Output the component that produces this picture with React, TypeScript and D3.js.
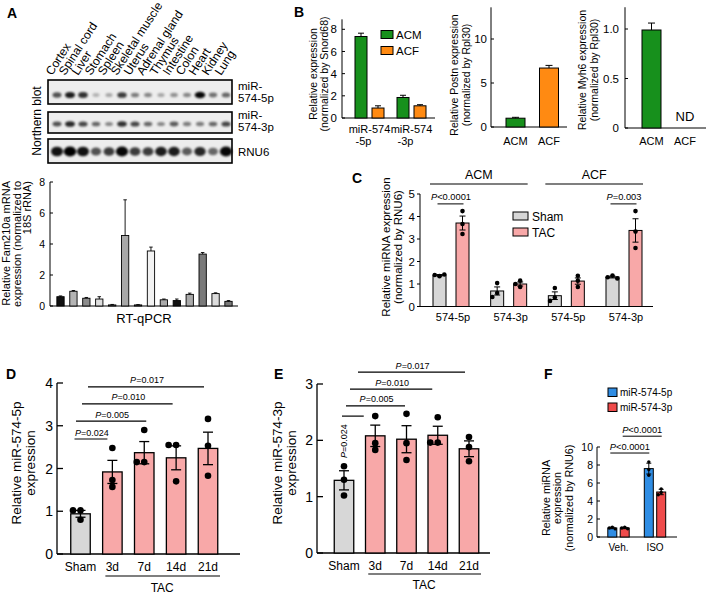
import React from 'react';
import * as d3 from 'd3';

const FONT = "'Liberation Sans', Arial, Helvetica, sans-serif";

// ===== Panel A data =====
const tissues = ['Cortex', 'Spinal cord', 'Liver', 'Stomach', 'Spleen', 'Skeletal muscle', 'Uterus', 'Adrenal gland', 'Thymus', 'Intestine', 'Colon', 'Heart', 'Kidney', 'Lung'];
const blot5p = [0.6, 0.85, 0.75, 0.15, 0.2, 0.7, 0.4, 0.35, 0.2, 0.3, 0.35, 0.95, 0.45, 0.5];
const blot3p = [0.6, 0.8, 0.65, 0.5, 0.35, 0.75, 0.65, 0.5, 0.35, 0.55, 0.4, 0.4, 0.5, 0.65];
const blotRNU6 = [0.9, 1.0, 0.9, 0.6, 0.7, 0.95, 0.7, 0.7, 0.85, 0.85, 0.55, 0.8, 0.5, 0.95];
const fam210aMean = [0.6, 0.95, 0.5, 0.45, 0.07, 4.55, 0.07, 3.55, 0.4, 0.35, 0.75, 3.35, 0.8, 0.3];
const fam210aErr = [0.05, 0.05, 0.05, 0.15, 0.03, 2.3, 0.02, 0.25, 0.05, 0.1, 0.08, 0.1, 0.05, 0.05];
const fam210aTicks = [0, 2, 4, 6, 8];
const fam210aFills = ['#111', '#b4b4b4', '#8c8c8c', '#dedede', '#999', '#a8a8a8', '#888', '#f2f2f2', '#aaa', '#111', '#aaa', '#7a7a7a', '#dcdcdc', '#7a7a7a'];

// ===== Panel B data =====
const bMirGroups = ['-5p', '-3p'];
const bCells = ['ACM', 'ACF'];
const bMirACMMean = [7.35, 1.85];
const bMirACMErr = [0.3, 0.2];
const bMirACFMean = [0.9, 1.1];
const bMirACFErr = [0.2, 0.1];
const bMirTicks = [0, 2, 4, 6, 8];
const bPostnMean = [1.0, 6.7];
const bPostnErr = [0.1, 0.3];
const bPostnTicks = [0, 5, 10];
const bMyh6Mean = [0.99];
const bMyh6Err = [0.07];
const bMyh6Ticks = [0, 0.5, 1.0];

// ===== Panel C data =====
const cCells = ['ACM', 'ACF'];
const cMirs = ['574-5p', '574-3p', '574-5p', '574-3p'];
const cShamMean = [1.39, 0.69, 0.48, 1.31];
const cShamErr = [0.03, 0.18, 0.17, 0.04];
const cShamDots = [[1.35, 1.4, 1.42], [1.04, 0.6, 0.42], [0.82, 0.4, 0.25], [1.38, 1.3, 1.25]];
const cTacMean = [3.71, 1.0, 1.13, 3.38];
const cTacErr = [0.31, 0.09, 0.14, 0.52];
const cTacDots = [[4.24, 3.67, 3.22], [1.15, 1.0, 0.87], [1.37, 1.15, 0.87], [4.24, 3.33, 2.6]];
const cTicks = [0, 1, 2, 3, 4, 5];
const cPvals = [{ group: 0, y: 4.56, p: '<0.0001' }, { group: 3, y: 4.56, p: '=0.003' }];

// ===== Panel D data =====
const tacGroups = ['Sham', '3d', '7d', '14d', '21d'];
const d5pMean = [0.94, 1.92, 2.37, 2.25, 2.47];
const d5pErr = [0.08, 0.27, 0.26, 0.28, 0.38];
const d5pDots = [[1.02, 1.02, 0.8], [2.48, 1.73, 1.57], [2.9, 2.15, 2.15], [2.55, 2.55, 1.7], [3.16, 2.53, 1.83]];
const dTicks = [0, 1, 2, 3, 4];
const dPvals = [{ to: '3d', y: 2.69, p: '=0.024' }, { to: '7d', y: 3.11, p: '=0.005' }, { to: '14d', y: 3.51, p: '=0.010' }, { to: '21d', y: 3.91, p: '=0.017' }];

// ===== Panel E data =====
const e3pMean = [1.29, 2.08, 2.02, 2.09, 1.85];
const e3pErr = [0.17, 0.19, 0.24, 0.16, 0.14];
const e3pDots = [[1.54, 1.3, 1.02], [2.43, 1.95, 1.83], [2.47, 1.95, 1.65], [2.41, 1.96, 1.96], [2.06, 1.88, 1.63]];
const eTicks = [0, 1, 2, 3];
const ePvals = [{ to: '3d', y: 2.43, p: '=0.024' }, { to: '7d', y: 2.61, p: '=0.005' }, { to: '14d', y: 2.91, p: '=0.010' }, { to: '21d', y: 3.21, p: '=0.017' }];

// ===== Panel F data =====
const fGroups = ['Veh.', 'ISO'];
const fMirs = ['miR-574-5p', 'miR-574-3p'];
const f5pMean = [1.0, 7.6];
const f5pErr = [0.08, 0.6];
const f5pDots = [[1.1, 1.0, 0.9], [8.35, 7.5, 6.85]];
const f3pMean = [1.0, 5.0];
const f3pErr = [0.08, 0.3];
const f3pDots = [[1.08, 1.0, 0.92], [5.35, 4.95, 4.7]];
const fTicks = [0, 2, 4, 6, 8, 10];
const fPvals = [{ series: 0, y: 9.33, p: '<0.0001' }, { series: 1, y: 11.2, p: '<0.0001' }];

// ===== helpers =====
function swarm(ys: number[], r: number, step: number): number[] {
  const placed: { x: number; y: number }[] = [];
  return ys.map((y) => {
    const cands = [0, -step, step, -2 * step, 2 * step];
    for (const dx of cands) {
      if (placed.every((p) => Math.hypot(p.x - dx, p.y - y) >= 2 * r * 0.9)) {
        placed.push({ x: dx, y });
        return dx;
      }
    }
    placed.push({ x: 0, y });
    return 0;
  });
}

function YAxis({ x, y, ticks, top, dir, len = 3, gap = 4, fs = 11, fmt = (t: number) => String(t), sw = 1 }: any) {
  return (
    <g>
      <line x1={x} x2={x} y1={y(0)} y2={y(top)} stroke="#000" strokeWidth={sw} />
      {ticks.map((t: number) => (
        <g key={t}>
          <line x1={x} x2={x + dir * len} y1={y(t)} y2={y(t)} stroke="#000" strokeWidth={sw} />
          <text x={x - gap - (dir < 0 ? len : 0)} y={y(t)} dy="0.36em" textAnchor="end" fontSize={fs}>{fmt(t)}</text>
        </g>
      ))}
    </g>
  );
}

function RotLines({ x, y, lines, fs, spacing, anchor = 'middle' }: any) {
  return (
    <g>
      {lines.map((l: string, i: number) => (
        <text key={i} transform={`translate(${x + i * spacing},${y}) rotate(-90)`} textAnchor={anchor} fontSize={fs}>{l}</text>
      ))}
    </g>
  );
}

function PText({ x, y, p, fs = 9, rotate = false }: any) {
  return (
    <text transform={`translate(${x},${y})${rotate ? ' rotate(-90)' : ''}`} textAnchor="middle" fontSize={fs}>
      <tspan fontStyle="italic">P</tspan>{p}
    </text>
  );
}

function Bar({ cx, w, y, v, fill, sw = 1 }: any) {
  return <rect x={cx - w / 2} y={y(v)} width={w} height={y(0) - y(v)} fill={fill} stroke="#000" strokeWidth={sw} />;
}

function ErrUp({ cx, y, v, e, cap, sw = 1 }: any) {
  return (
    <g stroke="#000" strokeWidth={sw}>
      <line x1={cx} x2={cx} y1={y(v)} y2={y(v + e)} />
      <line x1={cx - cap / 2} x2={cx + cap / 2} y1={y(v + e)} y2={y(v + e)} />
    </g>
  );
}

function ErrBoth({ cx, y, v, e, cap, sw = 1 }: any) {
  return (
    <g stroke="#000" strokeWidth={sw}>
      <line x1={cx} x2={cx} y1={y(v - e)} y2={y(v + e)} />
      <line x1={cx - cap / 2} x2={cx + cap / 2} y1={y(v + e)} y2={y(v + e)} />
      <line x1={cx - cap / 2} x2={cx + cap / 2} y1={y(v - e)} y2={y(v - e)} />
    </g>
  );
}

function Dots({ cx, y, vals, r, step }: any) {
  const ys = vals.map((v: number) => y(v));
  const dx = swarm(ys, r, step);
  return (
    <g>
      {ys.map((yy: number, i: number) => <circle key={i} cx={cx + dx[i]} cy={yy} r={r} fill="#000" />)}
    </g>
  );
}

// ===== Panel A =====
function PanelA() {
  const lane = d3.scalePoint<string>().domain(tissues).range([57, 226]);
  const xA = d3.scalePoint<string>().domain(tissues).range([60.5, 228.5]);
  const yA = d3.scaleLinear().domain([0, 8]).range([306, 182]);
  const blots = [
    { vals: blot5p, top: 80, bot: 104, by: 95, rx: 4.5, ry: 2.8, lab: ['miR-', '574-5p'], ly: 89.5 },
    { vals: blot3p, top: 112, bot: 133, by: 124, rx: 4.5, ry: 2.6, lab: ['miR-', '574-3p'], ly: 118.5 },
    { vals: blotRNU6, top: 139, bot: 163, by: 151.5, rx: 5.2, ry: 4.2, lab: ['RNU6'], ly: 156 },
  ];
  return (
    <g>
      <text x={7} y={18} fontSize={14} fontWeight="bold">A</text>
      {tissues.map((t) => (
        <text key={t} transform={`translate(${(lane(t) as number) - 5},${76}) rotate(-57)`} fontSize={12}>{t}</text>
      ))}
      <RotLines x={41} y={121} lines={['Northern blot']} fs={12} spacing={0} />
      {blots.map((b, bi) => (
        <g key={bi}>
          <rect x={48} y={b.top} width={184} height={b.bot - b.top} fill="#ededed" />
          <g filter="url(#blur)">
            {b.vals.map((v, i) => (
              <ellipse key={i} cx={lane(tissues[i]) as number} cy={b.by} rx={b.rx * (0.7 + 0.5 * v)} ry={b.ry * (0.6 + 0.6 * v)} fill="#000" opacity={Math.min(1, 0.12 + 0.9 * v)} />
            ))}
          </g>
          <rect x={48} y={b.top} width={184} height={b.bot - b.top} fill="none" stroke="#000" strokeWidth={1.6} />
          {b.lab.map((l, li) => (
            <text key={li} x={238} y={b.ly + li * 12.5} fontSize={11.5}>{l}</text>
          ))}
        </g>
      ))}
      {/* Fam210a bar chart */}
      <RotLines x={10} y={181} lines={['Relative Fam210a mRNA', 'expression (normalized to', '18S rRNA)']} fs={11} spacing={10.6} anchor="end" />
      <YAxis x={50} y={yA} ticks={fam210aTicks} top={8} dir={1} len={3} gap={5} fs={10.5} />
      <line x1={50} x2={238} y1={yA(0)} y2={yA(0)} stroke="#000" strokeWidth={1} />
      {tissues.map((t, i) => (
        <g key={t}>
          <Bar cx={xA(t)} w={7.3} y={yA} v={fam210aMean[i]} fill={fam210aFills[i]} sw={0.9} />
          <ErrUp cx={xA(t)} y={yA} v={fam210aMean[i]} e={fam210aErr[i]} cap={3.5} sw={0.9} />
        </g>
      ))}
      <text x={144} y={323} textAnchor="middle" fontSize={13}>RT-qPCR</text>
    </g>
  );
}

// ===== Panel B =====
const GREEN = '#17901c';
const ORANGE = '#ff8a12';
function PanelB() {
  const gx = d3.scalePoint<string>().domain(bMirGroups).range([369.5, 411.5]);
  const ix = d3.scalePoint<string>().domain(bCells).range([-8.5, 8.5]);
  const y1 = d3.scaleLinear().domain([0, 8]).range([118, 29.3]);
  const x2 = d3.scalePoint<string>().domain(bCells).range([515.5, 549]);
  const y2 = d3.scaleLinear().domain([0, 10]).range([127, 39]);
  const x3 = d3.scalePoint<string>().domain(bCells).range([651.5, 685]);
  const y3 = d3.scaleLinear().domain([0, 1]).range([128, 29]);
  const fills = [GREEN, ORANGE];
  return (
    <g>
      <text x={294} y={17} fontSize={14} fontWeight="bold">B</text>
      {/* B1 */}
      <RotLines x={317} y={74} lines={['Relative expression', '(normalized by Snord68)']} fs={10.5} spacing={11} />
      <YAxis x={342} y={y1} ticks={bMirTicks} top={8.9} dir={1} len={3} gap={5} fs={11.5} />
      <line x1={342} x2={435} y1={y1(0)} y2={y1(0)} stroke="#000" />
      {bMirGroups.map((g, i) => (
        <g key={g}>
          <Bar cx={(gx(g) as number) + (ix('ACM') as number)} w={12} y={y1} v={bMirACMMean[i]} fill={GREEN} />
          <ErrUp cx={(gx(g) as number) + (ix('ACM') as number)} y={y1} v={bMirACMMean[i]} e={bMirACMErr[i]} cap={6} />
          <Bar cx={(gx(g) as number) + (ix('ACF') as number)} w={12} y={y1} v={bMirACFMean[i]} fill={ORANGE} />
          <ErrUp cx={(gx(g) as number) + (ix('ACF') as number)} y={y1} v={bMirACFMean[i]} e={bMirACFErr[i]} cap={6} />
          <text x={gx(g)} y={133} textAnchor="middle" fontSize={11}>miR-574</text>
          <text x={(gx(g) as number) - 6} y={145} textAnchor="middle" fontSize={11}>{g}</text>
        </g>
      ))}
      {bCells.map((c, i) => (
        <g key={c}>
          <rect x={381} y={30.5 + i * 16} width={12} height={8} fill={fills[i]} stroke="#000" />
          <text x={396} y={38.5 + i * 16} fontSize={11.5}>{c}</text>
        </g>
      ))}
      {/* B2 */}
      <RotLines x={458} y={75} lines={['Relative Postn expression', '(normalized by Rpl30)']} fs={10.5} spacing={11.5} />
      <YAxis x={491} y={y2} ticks={bPostnTicks} top={13.6} dir={1} len={3} gap={4} fs={11.5} />
      <line x1={491} x2={567} y1={y2(0)} y2={y2(0)} stroke="#000" />
      {bCells.map((c, i) => (
        <g key={c}>
          <Bar cx={x2(c)} w={19} y={y2} v={bPostnMean[i]} fill={fills[i]} />
          <ErrUp cx={x2(c)} y={y2} v={bPostnMean[i]} e={bPostnErr[i]} cap={7} />
          <text x={x2(c)} y={145} textAnchor="middle" fontSize={11}>{c}</text>
        </g>
      ))}
      {/* B3 */}
      <RotLines x={586} y={70} lines={['Relative Myh6 expression', '(normalized by Rpl30)']} fs={10.5} spacing={12} />
      <YAxis x={625} y={y3} ticks={bMyh6Ticks} top={1.22} dir={1} len={3} gap={6} fs={11.5} fmt={(t: number) => (t === 0 ? '0' : t.toFixed(1))} />
      <line x1={625} x2={706} y1={y3(0)} y2={y3(0)} stroke="#000" />
      <Bar cx={x3('ACM')} w={19} y={y3} v={bMyh6Mean[0]} fill={GREEN} />
      <ErrUp cx={x3('ACM')} y={y3} v={bMyh6Mean[0]} e={bMyh6Err[0]} cap={7} />
      <text x={x3('ACF')} y={121} textAnchor="middle" fontSize={13}>ND</text>
      {bCells.map((c) => (
        <text key={c} x={x3(c)} y={145} textAnchor="middle" fontSize={11}>{c}</text>
      ))}
    </g>
  );
}

// ===== Panel C =====
const SHAM = '#d7d7d7';
const TAC = '#f8a8a8';
function PanelC() {
  const xC = d3.scalePoint<number>().domain([0, 1, 2, 3]).range([451, 624]);
  const yC = d3.scaleLinear().domain([0, 5]).range([306.5, 194]);
  const off = 11.5;
  return (
    <g>
      <text x={352} y={183} fontSize={14} fontWeight="bold">C</text>
      <RotLines x={390} y={247} lines={['Relative miRNA expression', '(normalized by RNU6)']} fs={11.5} spacing={12} />
      <YAxis x={420} y={yC} ticks={cTicks} top={5} dir={-1} len={3} gap={2} fs={11.5} />
      <line x1={420} x2={653} y1={yC(0)} y2={yC(0)} stroke="#000" />
      {cCells.map((c, i) => {
        const a = (xC(i * 2) as number) - 21;
        const b = (xC(i * 2 + 1) as number) + 19;
        return (
          <g key={c}>
            <line x1={a} x2={b} y1={184} y2={184} stroke="#000" strokeWidth={1.2} />
            <text x={(a + b) / 2} y={179} textAnchor="middle" fontSize={12.5}>{c}</text>
          </g>
        );
      })}
      {cMirs.map((m, i) => {
        const cx = xC(i) as number;
        return (
          <g key={i}>
            <Bar cx={cx - off} w={13} y={yC} v={cShamMean[i]} fill={SHAM} />
            <ErrBoth cx={cx - off} y={yC} v={cShamMean[i]} e={cShamErr[i]} cap={6} />
            <Dots cx={cx - off} y={yC} vals={cShamDots[i]} r={2.3} step={4.8} />
            <Bar cx={cx + off} w={13} y={yC} v={cTacMean[i]} fill={TAC} />
            <ErrBoth cx={cx + off} y={yC} v={cTacMean[i]} e={cTacErr[i]} cap={6} />
            <Dots cx={cx + off} y={yC} vals={cTacDots[i]} r={2.3} step={4.8} />
            <text x={cx + 2} y={321} textAnchor="middle" fontSize={11}>{m}</text>
          </g>
        );
      })}
      {cPvals.map((p, i) => {
        const cx = xC(p.group) as number;
        return (
          <g key={i}>
            <line x1={cx - off - 2} x2={cx + off + 1} y1={yC(p.y)} y2={yC(p.y)} stroke="#000" />
            <PText x={cx} y={yC(p.y) - 3.5} p={p.p} fs={9.3} />
          </g>
        );
      })}
      {['Sham', 'TAC'].map((s, i) => (
        <g key={s}>
          <rect x={513} y={212 + i * 16} width={15} height={8} fill={i === 0 ? SHAM : TAC} stroke="#000" />
          <text x={532} y={220.5 + i * 16} fontSize={12}>{s}</text>
        </g>
      ))}
    </g>
  );
}

// ===== Panel D / E =====
function TacPanel({ letter, lx, axisX, xr, yDomTop, yr, mean, err, dots, ticks, pvals, ylab, ylabX, axisEnd, tacY, tacTextY, labY, rotFirst, startOff, endOffs }: any) {
  const x = d3.scalePoint<string>().domain(tacGroups).range(xr);
  const y = d3.scaleLinear().domain([0, yDomTop]).range(yr);
  const w = 19.5;
  return (
    <g>
      <text x={lx} y={379} fontSize={14} fontWeight="bold">{letter}</text>
      <RotLines x={ylabX} y={463} lines={[ylab, 'expression']} fs={13.5} spacing={14} />
      <YAxis x={axisX} y={y} ticks={ticks} top={yDomTop} dir={1} len={6} gap={4} fs={14} sw={1.3} />
      <line x1={axisX} x2={axisEnd} y1={y(0)} y2={y(0)} stroke="#000" strokeWidth={1.3} />
      {tacGroups.map((g, i) => (
        <g key={g}>
          <Bar cx={x(g)} w={w} y={y} v={mean[i]} fill={i === 0 ? SHAM : TAC} sw={1.3} />
          <ErrBoth cx={x(g)} y={y} v={mean[i]} e={err[i]} cap={10} sw={1.3} />
          <Dots cx={x(g)} y={y} vals={dots[i]} r={3.3} step={7.5} />
          <text x={x(g)} y={labY} textAnchor="middle" fontSize={12}>{g}</text>
        </g>
      ))}
      <line x1={(x('3d') as number) - 7} x2={(x('21d') as number) + 12} y1={tacY} y2={tacY} stroke="#000" strokeWidth={1.2} />
      <text x={((x('3d') as number) + (x('21d') as number)) / 2 + 2} y={tacTextY} textAnchor="middle" fontSize={12}>TAC</text>
      {pvals.map((p: any, i: number) => {
        const x1 = (x('Sham') as number) + startOff[i];
        const x2 = (x(p.to) as number) - endOffs[i];
        const yy = y(p.y);
        return (
          <g key={i}>
            <line x1={x1} x2={x2} y1={yy} y2={yy} stroke="#000" strokeWidth={1.2} />
            {rotFirst && i === 0 ? (
              <PText x={(x('Sham') as number) + 3} y={y(p.y) + 25} p={p.p} fs={9} rotate />
            ) : (
              <PText x={(x1 + x2) / 2 + 1} y={yy - 3.5} p={p.p} fs={9} />
            )}
          </g>
        );
      })}
    </g>
  );
}

// ===== Panel F =====
const BLUE = '#2f8de4';
const RED = '#ef4b4b';
function PanelF() {
  const gx = d3.scalePoint<string>().domain(fGroups).range([618.5, 655]);
  const sx = d3.scalePoint<string>().domain(fMirs).range([-6.2, 6.2]);
  const y = d3.scaleLinear().domain([0, 10]).range([537, 447]);
  const means = [f5pMean, f3pMean];
  const errs = [f5pErr, f3pErr];
  const dots = [f5pDots, f3pDots];
  const fills = [BLUE, RED];
  return (
    <g>
      <text x={544} y={379} fontSize={14} fontWeight="bold">F</text>
      {fMirs.map((m, i) => (
        <g key={m}>
          <rect x={608} y={388 + i * 15} width={9} height={8.5} fill={fills[i]} stroke="#000" />
          <text x={620} y={396 + i * 15} fontSize={10}>{m}</text>
        </g>
      ))}
      <RotLines x={549.5} y={498} lines={['Relative miRNA', 'expression', '(normalized by RNU6)']} fs={10.8} spacing={11.5} />
      <YAxis x={597} y={y} ticks={fTicks} top={10} dir={1} len={3} gap={4} fs={10.5} />
      <line x1={597} x2={677} y1={y(0)} y2={y(0)} stroke="#000" />
      {fGroups.map((g, gi) => (
        <g key={g}>
          {fMirs.map((m, si) => {
            const cx = (gx(g) as number) + (sx(m) as number);
            return (
              <g key={m}>
                <Bar cx={cx} w={9} y={y} v={means[si][gi]} fill={fills[si]} />
                <ErrBoth cx={cx} y={y} v={means[si][gi]} e={errs[si][gi]} cap={5} />
                <Dots cx={cx} y={y} vals={dots[si][gi]} r={1.7} step={3} />
              </g>
            );
          })}
          <text x={gx(g)} y={551} textAnchor="middle" fontSize={10}>{g}</text>
        </g>
      ))}
      {fPvals.map((p, i) => {
        const m = fMirs[p.series];
        const x1 = (gx('Veh.') as number) + (sx(m) as number) - 2;
        const x2 = (gx('ISO') as number) + (sx(m) as number) + 0.5;
        return (
          <g key={i}>
            <line x1={x1} x2={x2} y1={y(p.y)} y2={y(p.y)} stroke="#000" />
            <PText x={(x1 + x2) / 2} y={y(p.y) - 3.5} p={p.p} fs={9.3} />
          </g>
        );
      })}
    </g>
  );
}

export default function App() {
  return (
    <svg width={708} height={594} style={{ position: 'absolute', left: 0, top: 0 }} fontFamily={FONT}>
      <defs>
        <filter id="blur" x="-20%" y="-50%" width="140%" height="200%">
          <feGaussianBlur stdDeviation="1.2" />
        </filter>
      </defs>
      <rect width={708} height={594} fill="#fff" />
      <PanelA />
      <PanelB />
      <PanelC />
      <TacPanel letter="D" lx={6} axisX={57} xr={[80.5, 208]} yDomTop={4} yr={[554, 383]} mean={d5pMean} err={d5pErr} dots={d5pDots}
        ticks={dTicks} pvals={dPvals} ylab="Relative miR-574-5p" ylabX={21} axisEnd={240} tacY={576} tacTextY={592} labY={571}
        rotFirst={false} startOff={[-6, -4.5, 1.5, 7.5]} endOffs={[5, -2, 3.5, 4]} />
      <TacPanel letter="E" lx={274} axisX={317} xr={[344, 469]} yDomTop={3} yr={[553, 384]} mean={e3pMean} err={e3pErr} dots={e3pDots}
        ticks={eTicks} pvals={ePvals} ylab="Relative miR-574-3p" ylabX={282} axisEnd={490} tacY={574} tacTextY={589} labY={570}
        rotFirst={true} startOff={[-2, 2, 6, 14]} endOffs={[11.5, 1.5, 5.5, 4]} />
      <PanelF />
    </svg>
  );
}
